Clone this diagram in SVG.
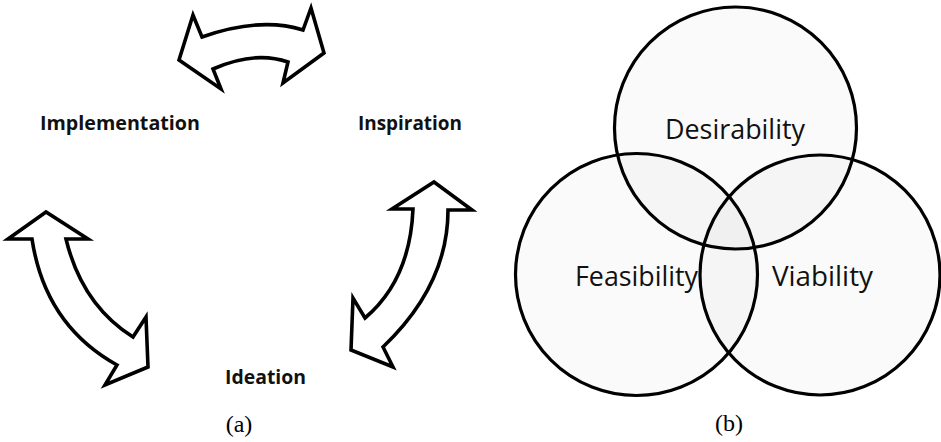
<svg xmlns="http://www.w3.org/2000/svg" width="941" height="442" viewBox="0 0 941 442">
<style>
.arrow{fill:#ffffff;stroke:#000;stroke-width:3.6;stroke-linejoin:miter;stroke-miterlimit:10}
.circ{fill:#000;fill-opacity:0.018;stroke:#000;stroke-width:3.2}
.lbl{font-family:"Open Sans","Liberation Sans",sans-serif;font-weight:700;font-size:20px;fill:#111}
.vlbl{font-family:"Open Sans","Liberation Sans",sans-serif;font-size:27px;fill:#111;text-anchor:middle}
.cap{font-family:"Liberation Serif","Times New Roman",serif;font-size:24px;fill:#000;text-anchor:middle}
</style>
<rect width="941" height="442" fill="#fff"/>
<g id="connectors">
  <path id="arrow-top" class="arrow" d="M179,60 L193,15 L202,37 Q260,16.5 303,30 L311,8 L324,53 L283,83 L288,62 Q255,50.5 213,69 L221,89 Z"/>
  <path id="arrow-left" class="arrow" d="M46,212 L8,239 L32,239 Q45,325 117,365 L105,385 L148,367 L146,317 L133,337 Q82,305 66,239 L88,239 Z"/>
  <path id="arrow-right" class="arrow" d="M434,182 L472,210 L448,210 Q448,285 383,347 L393,367 L351,350 L353,298 L365,318 Q410,280 413,209 L392,209 Z"/>
</g>
<g id="node-implementation"><text class="lbl" x="40" y="130" textLength="160" lengthAdjust="spacingAndGlyphs">Implementation</text></g>
<g id="node-inspiration"><text class="lbl" x="358" y="130" textLength="104" lengthAdjust="spacingAndGlyphs">Inspiration</text></g>
<g id="node-ideation"><text class="lbl" x="225" y="384" textLength="81" lengthAdjust="spacingAndGlyphs">Ideation</text></g>
<text class="cap" x="239" y="432">(a)</text>
<g id="venn">
  <g id="node-desirability"><circle class="circ" cx="735.5" cy="128" r="121"/></g>
  <g id="node-feasibility"><circle class="circ" cx="636.5" cy="274.5" r="121"/></g>
  <g id="node-viability"><circle class="circ" cx="820" cy="275" r="120"/></g>
  <text class="vlbl" x="735" y="139" textLength="140" lengthAdjust="spacingAndGlyphs">Desirability</text>
  <text class="vlbl" x="636.5" y="286" textLength="123" lengthAdjust="spacingAndGlyphs">Feasibility</text>
  <text class="vlbl" x="822.5" y="286" textLength="101" lengthAdjust="spacingAndGlyphs">Viability</text>
</g>
<text class="cap" x="729" y="431">(b)</text>
</svg>
